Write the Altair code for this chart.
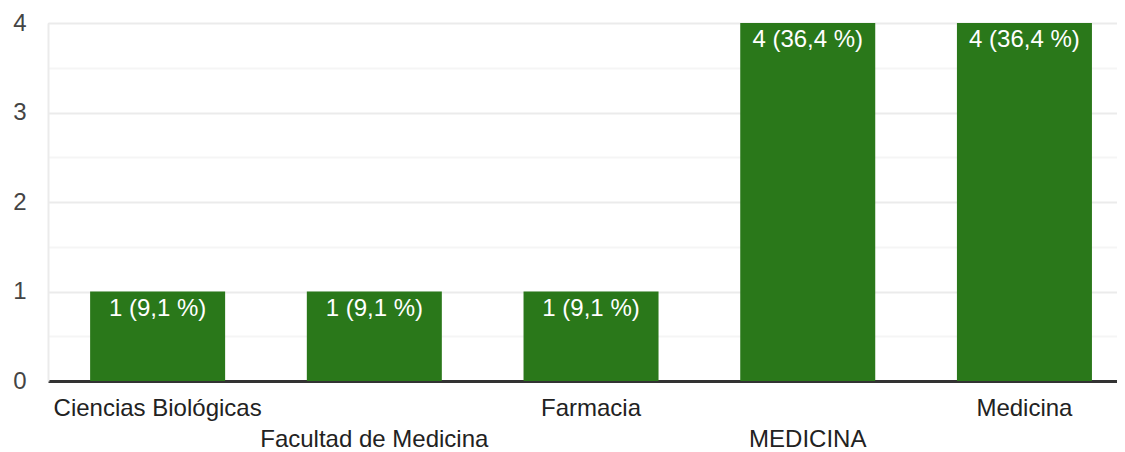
import altair as alt
import pandas as pd

categories = ["Ciencias Biológicas", "Facultad de Medicina", "Farmacia", "MEDICINA", "Medicina"]
counts = [1, 1, 1, 4, 4]
percents = ["9,1", "9,1", "9,1", "36,4", "36,4"]
label_rows = [0, 1, 0, 1, 0]
y_ticks = [0, 0.5, 1, 1.5, 2, 2.5, 3, 3.5, 4]

df = pd.DataFrame({
    "cat": categories,
    "count": counts,
    "label": [f"{c} ({p} %)" for c, p in zip(counts, percents)],
    "row": label_rows,
})

FONT = "Liberation Sans"
FS = 24
W, H = 1069, 358

xscale = alt.Scale(domain=categories, paddingInner=0.377, paddingOuter=0.155, align=0.627)

base = alt.Chart(df)

bars = base.mark_bar(color="#2a781a").encode(
    x=alt.X("cat:N", scale=xscale, sort=categories,
            axis=alt.Axis(title=None, labels=False, ticks=False,
                          domainColor="#333333", domainWidth=3)),
    y=alt.Y("count:Q", scale=alt.Scale(domain=[0, 4], nice=False),
            axis=alt.Axis(title=None, values=y_ticks, ticks=False,
                          labelExpr="datum.value % 1 === 0 ? format(datum.value, 'd') : ''",
                          labelFont=FONT, labelFontSize=FS, labelColor="#444444",
                          labelPadding=22, domainColor="#ebebeb", domainWidth=2,
                          gridColor={"condition": {"test": "datum.value % 1 === 0", "value": "#ebebeb"},
                                     "value": "#f5f5f5"},
                          gridWidth=2)),
)

bar_text = base.mark_text(color="white", font=FONT, fontSize=FS, baseline="middle", dy=17).encode(
    x=alt.X("cat:N", scale=xscale, sort=categories),
    y=alt.Y("count:Q"),
    text="label:N",
)

xlab0 = base.transform_filter("datum.row == 0").mark_text(
    color="#222222", font=FONT, fontSize=FS, baseline="middle").encode(
    x=alt.X("cat:N", scale=xscale, sort=categories),
    y=alt.value(H + 28),
    text="cat:N",
)
xlab1 = base.transform_filter("datum.row == 1").mark_text(
    color="#222222", font=FONT, fontSize=FS, baseline="middle").encode(
    x=alt.X("cat:N", scale=xscale, sort=categories),
    y=alt.value(H + 59),
    text="cat:N",
)

chart = alt.layer(bars, bar_text, xlab0, xlab1).properties(
    width=W, height=H,
    autosize=alt.AutoSizeParams(type="none"),
    padding={"left": 40, "top": 15, "right": 0, "bottom": 70},
).configure_view(stroke=None).configure(background="white")

chart.save("out.html", embed_options={"renderer": "svg", "actions": False})
